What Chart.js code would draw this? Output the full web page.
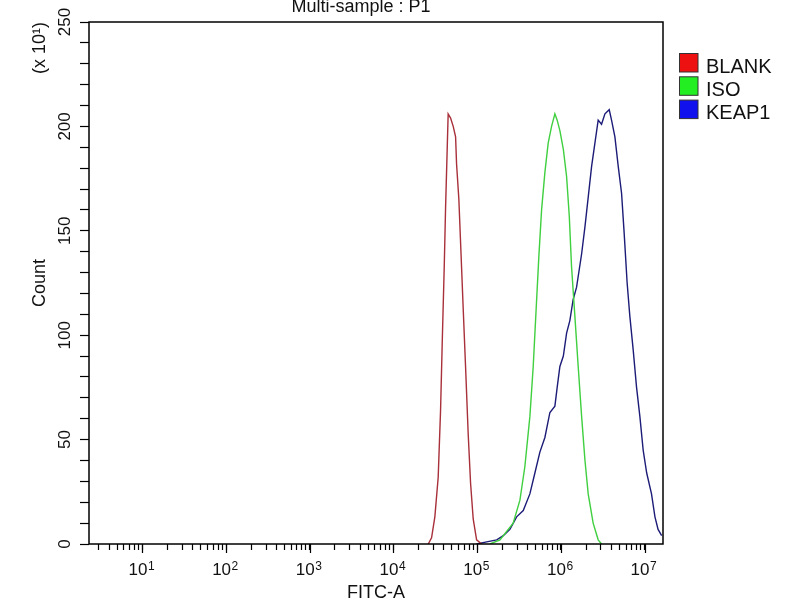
<!DOCTYPE html>
<html>
<head>
<meta charset="utf-8">
<script src="https://cdn.jsdelivr.net/npm/chart.js@4.4.1/dist/chart.umd.min.js"></script>
<style>
html,body{margin:0;padding:0;background:#fff;}
canvas{display:block;}
</style>
</head>
<body>
<canvas id="c" width="800" height="600"></canvas>
<script>
// ---- data ----
const seriesNames = ['BLANK', 'ISO', 'KEAP1'];

const blankX = [26000, 28500, 31200, 34200, 36500, 38200, 40400, 41900, 43800, 45000, 48100, 51700, 55200, 56700, 60400, 63800, 68000, 72600, 78000, 83400, 89600, 98400, 113000];
const blankY = [0, 3, 13, 32, 64, 96, 133, 161, 189, 206, 204, 200, 195, 182, 165, 141, 113, 85, 53, 29, 12, 2, 0];

const isoX = [142000, 187000, 269000, 324000, 371000, 426000, 467000, 513000, 546000, 588000, 644000, 705000, 774000, 848000, 903000, 973000, 1070000, 1170000, 1260000, 1340000, 1470000, 1610000, 1770000, 1940000, 2120000, 2430000, 2790000, 3060000];
const isoY = [0, 2, 10, 21, 37, 61, 85, 117, 138, 160, 178, 192, 200, 206, 203, 198, 189, 176, 157, 133, 109, 85, 61, 40, 24, 10, 2, 0];

const keapX = [98400, 130000, 171000, 205000, 246000, 296000, 355000, 426000, 489000, 561000, 644000, 739000, 848000, 903000, 973000, 1070000, 1170000, 1280000, 1400000, 1540000, 1770000, 1940000, 2120000, 2330000, 2550000, 2790000, 3060000, 3360000, 3780000, 4030000, 4420000, 4840000, 5310000, 5700000, 6190000, 6670000, 7310000, 8020000, 8790000, 9620000, 10600000, 12100000, 13300000, 14500000, 16000000];
const keapY = [0, 1, 2, 4, 7, 13, 16, 24, 34, 44, 51, 63, 66, 75, 85, 90, 101, 107, 117, 123, 139, 152, 166, 181, 192, 203, 201, 206, 208, 203, 195, 181, 168, 149, 125, 109, 93, 75, 61, 45, 34, 24, 13, 7, 4];

const xMajorTicks = [1, 10, 100, 1000, 10000, 100000, 1000000, 10000000];
const xMajorBase = '10';
const xMajorExponents = ['0', '1', '2', '3', '4', '5', '6', '7'];
const xMinorMultipliers = [2, 3, 4, 5, 6, 7, 8, 9];
const xMin = 2.3, xMax = 16600000;

const yTickStep = 10;
const yLabelValues = [0, 50, 100, 150, 200, 250];
const yMin = 0, yMax = 250;

const chartTitle = 'Multi-sample : P1';
const xTitle = 'FITC-A';
const yTitle = 'Count';
const yUnit = '(x 10¹)';

const lineColors = ['#a8303a', '#3fcf3f', '#1c1c78'];
const legendColors = ['#ee1111', '#22ee22', '#1111ee'];

// ---- build ----
function pts(xs, ys) { return xs.map((x, i) => ({x: x, y: ys[i]})); }

const xTickList = [];
xMajorTicks.forEach(m => {
  if (m >= xMin && m <= xMax) xTickList.push(m);
  xMinorMultipliers.forEach(k => { const v = m * k; if (v >= xMin && v <= xMax) xTickList.push(v); });
});
xTickList.sort((a, b) => a - b);

const FONT = '"Liberation Sans", Arial, sans-serif';

const decor = {
  id: 'decor',
  afterDraw(chart) {
    const ctx = chart.ctx;
    const a = chart.chartArea;
    const xs = chart.scales.x;
    ctx.save();
    // plot frame
    ctx.strokeStyle = '#000';
    ctx.lineWidth = 1.5;
    ctx.strokeRect(a.left, a.top, a.right - a.left, a.bottom - a.top);
    // longer major ticks on x
    ctx.lineWidth = 1.2;
    ctx.beginPath();
    xMajorTicks.forEach(m => {
      if (m < xMin || m > xMax) return;
      const px = Math.round(xs.getPixelForValue(m)) + 0.5;
      ctx.moveTo(px, a.bottom);
      ctx.lineTo(px, a.bottom + 9);
    });
    ctx.stroke();
    ctx.fillStyle = '#111';
    ctx.textBaseline = 'alphabetic';
    // exponents of x tick labels
    ctx.font = '12px ' + FONT;
    ctx.textAlign = 'left';
    xMajorTicks.forEach((m, i) => {
      if (m < xMin || m > xMax) return;
      ctx.fillText(xMajorExponents[i], xs.getPixelForValue(m) + 5.5, 569.5);
    });
    // title
    ctx.font = '18px ' + FONT;
    ctx.textAlign = 'center';
    ctx.fillText(chartTitle, 361, 12);
    // x title
    ctx.fillText(xTitle, (a.left + a.right) / 2, 598);
    // y title + unit
    ctx.save();
    ctx.translate(45, (a.top + a.bottom) / 2);
    ctx.rotate(-Math.PI / 2);
    ctx.fillText(yTitle, 0, 0);
    ctx.restore();
    ctx.save();
    ctx.translate(45, 48);
    ctx.rotate(-Math.PI / 2);
    ctx.fillText(yUnit, 0, 0);
    ctx.restore();
    // legend
    ctx.font = '20px ' + FONT;
    ctx.textAlign = 'left';
    chart.data.datasets.forEach((ds, i) => {
      const top = 53.5 + i * 23.3;
      ctx.fillStyle = legendColors[i];
      ctx.fillRect(679.5, top, 18.5, 18.5);
      ctx.strokeStyle = '#333';
      ctx.lineWidth = 1;
      ctx.strokeRect(679.5, top, 18.5, 18.5);
      ctx.fillStyle = '#111';
      ctx.fillText(ds.label, 706, top + 19.2);
    });
    ctx.restore();
  }
};

new Chart(document.getElementById('c'), {
  type: 'line',
  data: {
    datasets: [
      {label: seriesNames[0], data: pts(blankX, blankY), borderColor: lineColors[0]},
      {label: seriesNames[1], data: pts(isoX, isoY), borderColor: lineColors[1]},
      {label: seriesNames[2], data: pts(keapX, keapY), borderColor: lineColors[2]}
    ]
  },
  options: {
    responsive: false,
    animation: false,
    devicePixelRatio: 1,
    layout: {padding: {left: 0, top: 22, right: 137, bottom: 0}},
    elements: {
      point: {radius: 0},
      line: {borderWidth: 1.4, tension: 0, fill: false}
    },
    plugins: {legend: {display: false}, title: {display: false}, tooltip: {enabled: false}},
    scales: {
      x: {
        type: 'logarithmic',
        min: xMin,
        max: xMax,
        afterBuildTicks: s => { s.ticks = xTickList.map(v => ({value: v})); },
        afterFit: s => { s.height = 56; },
        border: {display: false},
        grid: {display: true, drawOnChartArea: false, drawTicks: true, tickLength: 6, color: '#000', tickWidth: 1.2},
        ticks: {
          autoSkip: false, maxRotation: 0, minRotation: 0, padding: 10, labelOffset: -4.5,
          color: '#111', font: {family: FONT, size: 17},
          callback: (v) => xMajorTicks.includes(v) ? xMajorBase : ''
        }
      },
      y: {
        type: 'linear',
        min: yMin,
        max: yMax,
        afterFit: s => { s.width = 89; },
        border: {display: false},
        grid: {display: true, drawOnChartArea: false, drawTicks: true, tickLength: 9, color: '#000', tickWidth: 1.2},
        ticks: {
          stepSize: yTickStep, autoSkip: false, minRotation: 90, maxRotation: 90, crossAlign: 'center', padding: 1,
          color: '#111', font: {family: FONT, size: 17},
          callback: (v) => yLabelValues.includes(v) ? String(v) : ''
        }
      }
    }
  },
  plugins: [decor]
});
</script>
</body>
</html>
